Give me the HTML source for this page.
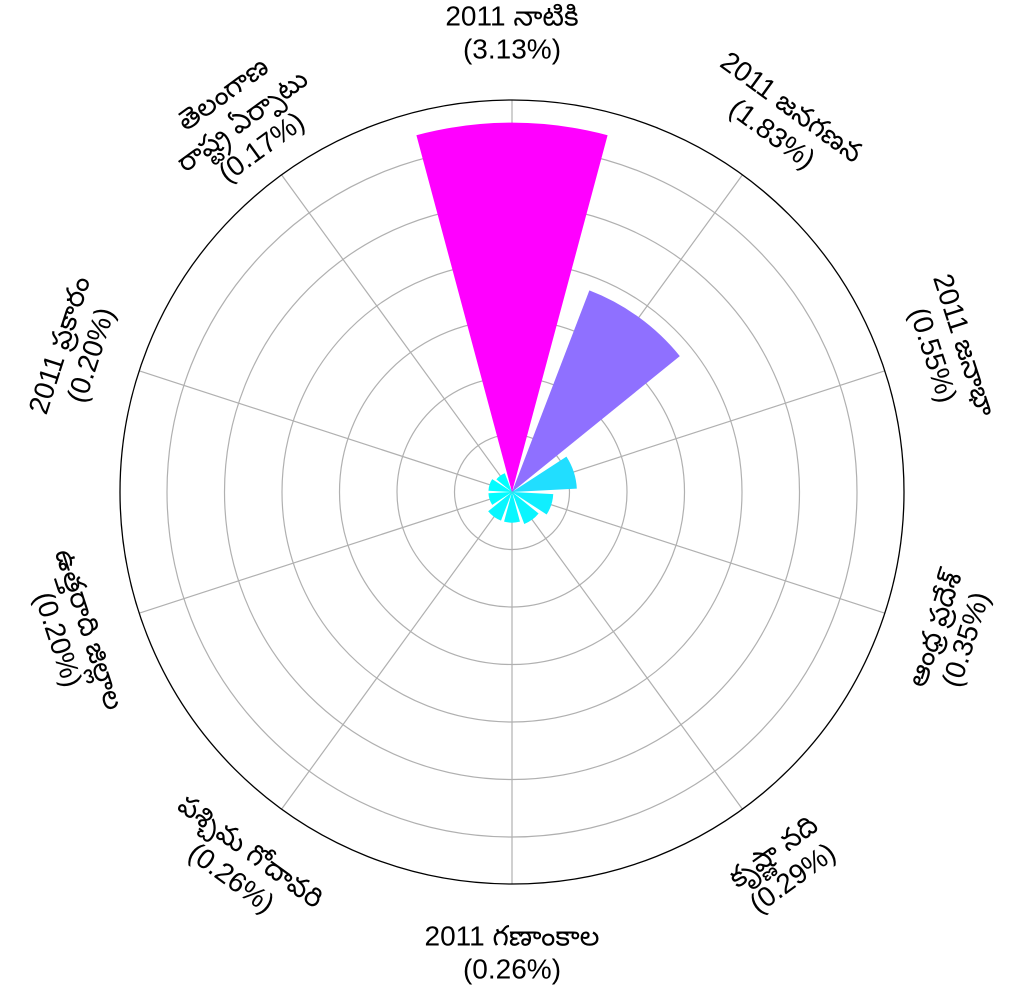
<!DOCTYPE html>
<html><head><meta charset="utf-8">
<style>
html,body{margin:0;padding:0;background:#fff;}
svg text{font-family:"Liberation Sans","Noto Sans Telugu","DejaVu Sans",sans-serif;font-size:28px;fill:#000;}
</style></head>
<body>
<svg id="chart" width="1022" height="989" viewBox="0 0 1022 989" xmlns="http://www.w3.org/2000/svg">
<g id="grid"></g>
<g id="bars"></g>
<g id="labels"></g>
</svg>
<script>
const categories = [
  ["2011 నాటికి"],
  ["2011 జనగణన"],
  ["2011 జనాభా"],
  ["ఆంధ్ర ప్రదేశ్"],
  ["కృష్ణా నది"],
  ["2011 గణాంకాల"],
  ["పశ్చిమ గోదావరి"],
  ["ఉత్తరాది జిల్లాల"],
  ["2011 ప్రకారం"],
  ["తెలంగాణ", "రాష్ట్ర ఏర్పాటు"]
];
const values = [3.13, 1.83, 0.55, 0.35, 0.29, 0.26, 0.26, 0.20, 0.20, 0.17];
const valueLabels = ["(3.13%)","(1.83%)","(0.55%)","(0.35%)","(0.29%)","(0.26%)","(0.26%)","(0.20%)","(0.20%)","(0.17%)"];

const NS = "http://www.w3.org/2000/svg";
const cx = 512, cy = 492, R = 392, scale = 118, ringStep = 57.5, labelR = 460;
const n = categories.length, step = 360 / n, barW = 30;
function ang(i){ return i * step; }
function pt(a, r){ const t = a*Math.PI/180; return [cx + r*Math.sin(t), cy - r*Math.cos(t)]; }
function rad(v){ return v * scale; }
const vmin = Math.min(...values), vmax = Math.max(...values);
function color(v){ const t=(v-vmin)/(vmax-vmin); return `rgb(${Math.round(255*t)},${Math.round(255*(1-t))},255)`; }

const grid = document.getElementById('grid');
for (let r = ringStep; r < R - 10; r += ringStep) {
  const c = document.createElementNS(NS,'circle');
  c.setAttribute('cx',cx); c.setAttribute('cy',cy); c.setAttribute('r',r);
  c.setAttribute('fill','none'); c.setAttribute('stroke','#b0b0b0'); c.setAttribute('stroke-width','1.2');
  
  
  grid.appendChild(c);
}
for (let i = 0; i < n; i++) {
  const [x,y] = pt(ang(i), R);
  const l = document.createElementNS(NS,'line');
  l.setAttribute('x1',cx); l.setAttribute('y1',cy); l.setAttribute('x2',x); l.setAttribute('y2',y);
  l.setAttribute('stroke','#b0b0b0'); l.setAttribute('stroke-width','1.2');
  
  
  grid.appendChild(l);
}
const outer = document.createElementNS(NS,'circle');
outer.setAttribute('cx',cx); outer.setAttribute('cy',cy); outer.setAttribute('r',R);
outer.setAttribute('fill','none'); outer.setAttribute('stroke','#000'); outer.setAttribute('stroke-width','1.3');


grid.appendChild(outer);

const bars = document.getElementById('bars');
values.forEach((v,i) => {
  const r = rad(v), a0 = ang(i) - barW/2, a1 = ang(i) + barW/2;
  const [x0,y0] = pt(a0,r), [x1,y1] = pt(a1,r);
  const p = document.createElementNS(NS,'path');
  p.setAttribute('d', `M${cx},${cy} L${x0},${y0} A${r},${r} 0 0 1 ${x1},${y1} Z`);
  p.setAttribute('fill', color(v));
  
  
  bars.appendChild(p);
});

const labels = document.getElementById('labels');
categories.forEach((lines,i) => {
  const a = ang(i);
  const [x,y] = pt(a, labelR);
  let rot = a; if (a > 90 && a < 270) rot = a - 180;
  const all = lines.concat([valueLabels[i]]);
  const t = document.createElementNS(NS,'text');
  t.setAttribute('text-anchor','middle');
  t.setAttribute('transform', `translate(${x},${y}) rotate(${rot})`);
  
  
  const lh = 33, start = -((all.length-1)*lh)/2 + 10;
  all.forEach((s,k) => {
    const ts = document.createElementNS(NS,'tspan');
    ts.setAttribute('x',0); ts.setAttribute('y', start + k*lh);
    ts.textContent = s;
    t.appendChild(ts);
  });
  labels.appendChild(t);
});
</script>
</body></html>
